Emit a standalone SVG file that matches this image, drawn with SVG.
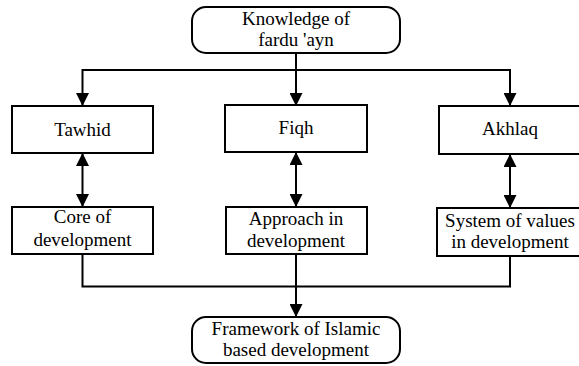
<svg xmlns="http://www.w3.org/2000/svg" width="579" height="366" viewBox="0 0 579 366">
<defs>
<style>
.box{fill:#fff;stroke:#000;stroke-width:2}
.ln{fill:none;stroke:#000;stroke-width:2}
.t{font-family:'Liberation Serif','Times New Roman',Times,'DejaVu Serif',serif;font-size:19px;fill:#000;text-anchor:middle}
</style>
<marker id="ah" markerUnits="userSpaceOnUse" markerWidth="13" markerHeight="13" refX="12" refY="6.5" orient="auto-start-reverse" viewBox="0 0 13 13">
<path d="M0,0 L13,6.5 L0,13 z" fill="#000"/>
</marker>
</defs>
<rect width="579" height="366" fill="#fff"/>
<g id="connectors">
<line class="ln" x1="296" y1="53" x2="296" y2="105" marker-end="url(#ah)"/>
<polyline class="ln" points="82.5,105 82.5,70 510,70 510,105" marker-start="url(#ah)" marker-end="url(#ah)"/>
<line class="ln" x1="82.5" y1="154" x2="82.5" y2="206" marker-start="url(#ah)" marker-end="url(#ah)"/>
<line class="ln" x1="296" y1="153" x2="296" y2="206" marker-start="url(#ah)" marker-end="url(#ah)"/>
<line class="ln" x1="510" y1="155" x2="510" y2="207" marker-start="url(#ah)" marker-end="url(#ah)"/>
<polyline class="ln" points="82.5,254 82.5,286.5 510,286.5 510,256"/>
<line class="ln" x1="296" y1="254" x2="296" y2="316" marker-end="url(#ah)"/>
</g>
<g id="n-knowledge">
<rect class="box" x="192" y="7" width="208" height="46" rx="14"/>
<text class="t" x="296" y="25" font-family="Liberation Serif, serif">Knowledge of</text>
<text class="t" x="296" y="46" font-family="Liberation Serif, serif">fardu 'ayn</text>
</g>
<g id="n-tawhid">
<rect class="box" x="12" y="106" width="141" height="47"/>
<text class="t" x="82.5" y="136" font-family="Liberation Serif, serif">Tawhid</text>
</g>
<g id="n-fiqh">
<rect class="box" x="225" y="105" width="142" height="47"/>
<text class="t" x="296" y="134" font-family="Liberation Serif, serif">Fiqh</text>
</g>
<g id="n-akhlaq">
<rect class="box" x="439" y="106" width="145" height="48"/>
<text class="t" x="510" y="135" font-family="Liberation Serif, serif">Akhlaq</text>
</g>
<g id="n-core">
<rect class="box" x="12" y="207" width="141" height="47"/>
<text class="t" x="82.5" y="223" font-family="Liberation Serif, serif">Core of</text>
<text class="t" x="82.5" y="246" font-family="Liberation Serif, serif">development</text>
</g>
<g id="n-approach">
<rect class="box" x="226" y="207" width="141" height="47"/>
<text class="t" x="296" y="225" font-family="Liberation Serif, serif">Approach in</text>
<text class="t" x="296" y="247" font-family="Liberation Serif, serif">development</text>
</g>
<g id="n-system">
<rect class="box" x="437" y="208" width="147" height="48"/>
<text class="t" x="510" y="227" font-family="Liberation Serif, serif">System of values</text>
<text class="t" x="510" y="248" font-family="Liberation Serif, serif">in development</text>
</g>
<g id="n-framework">
<rect class="box" x="192" y="317" width="208" height="46" rx="14"/>
<text class="t" x="296" y="335" font-family="Liberation Serif, serif">Framework of Islamic</text>
<text class="t" x="296" y="356" font-family="Liberation Serif, serif">based development</text>
</g>
</svg>
